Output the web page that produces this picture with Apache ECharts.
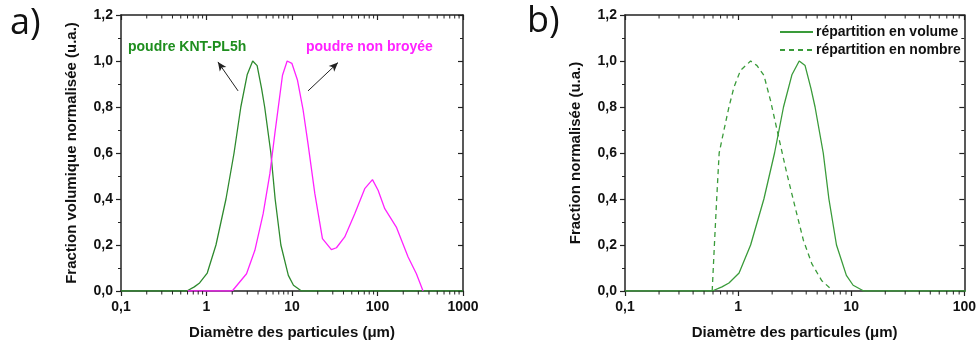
<!DOCTYPE html>
<html>
<head>
<meta charset="utf-8">
<script src="https://cdn.jsdelivr.net/npm/echarts@6/dist/echarts.min.js"></script>
<style>
html,body{margin:0;padding:0;background:#fff;}
#c{width:979px;height:347px;}
</style>
</head>
<body>
<div id="c"></div>
<script>
// ---- data ----
const volD = [0.1, 0.59, 0.72, 0.83, 1.02, 1.29, 1.69, 2.10, 2.52, 2.99, 3.47, 3.91, 4.41, 4.79, 5.66, 6.35, 7.41, 9.06, 10.4, 12.9, 1000];
const volY = [0, 0, 0.018, 0.035, 0.078, 0.2, 0.4, 0.6, 0.8, 0.94, 1.0, 0.98, 0.88, 0.8, 0.6, 0.4, 0.2, 0.068, 0.025, 0, 0];
const magD = [0.6, 2.0, 2.94, 3.68, 4.60, 5.51, 6.30, 7.74, 8.78, 9.96, 11.6, 13.5, 15.4, 18.5, 22.7, 28.9, 33.1, 41.4, 54.2, 70.9, 87.3, 101.6, 121.6, 166, 228, 285, 341];
const magY = [0, 0, 0.075, 0.177, 0.336, 0.51, 0.684, 0.938, 1.0, 0.99, 0.916, 0.786, 0.64, 0.423, 0.228, 0.18, 0.188, 0.235, 0.336, 0.445, 0.484, 0.438, 0.358, 0.278, 0.148, 0.075, 0];
const numD = [0.59, 0.62, 0.645, 0.68, 0.75, 0.83, 0.92, 1.05, 1.29, 1.47, 1.69, 1.93, 2.28, 2.70, 3.19, 3.78, 4.48, 5.47, 6.92];
const numY = [0, 0.22, 0.39, 0.6, 0.7, 0.8, 0.887, 0.959, 1.0, 0.98, 0.938, 0.83, 0.67, 0.51, 0.365, 0.22, 0.119, 0.046, 0];
const minorTicksA = [0.2,0.3,0.4,0.5,0.6,0.7,0.8,0.9,2,3,4,5,6,7,8,9,20,30,40,50,60,70,80,90,200,300,400,500,600,700,800,900];
const minorTicksB = [0.2,0.3,0.4,0.5,0.6,0.7,0.8,0.9,2,3,4,5,6,7,8,9,20,30,40,50,60,70,80,90];
const arrowGreen = [[2.34, 0.87], [1.36, 0.996]];
const arrowMag = [[15.4, 0.87], [34.5, 0.993]];

const FONT = '"Liberation Sans", Arial, sans-serif';
const AX = '#222';
const pair = (xs, ys) => xs.map((x, i) => [x, ys[i]]);
const fmtY = v => v.toFixed(1).replace('.', ',');
const fmtX = v => String(v).replace('.', ',');

function xAxisMain(gi, max){
  return {gridIndex: gi, type: 'log', logBase: 10, min: 0.1, max: max, position: 'bottom',
    axisLine: {show: true, onZero: false, lineStyle: {color: AX, width: 1.5}},
    axisTick: {show: true, inside: false, length: 5, lineStyle: {color: AX, width: 1.2}},
    axisLabel: {show: true, margin: 9, color: '#111', fontFamily: FONT, fontWeight: 'bold', fontSize: 14, formatter: fmtX, showMinLabel: true, showMaxLabel: true},
    splitLine: {show: false}, minorTick: {show: false},
    name: 'Diamètre des particules (μm)', nameLocation: 'middle', nameGap: 34,
    nameTextStyle: {color: '#111', fontFamily: FONT, fontWeight: 'bold', fontSize: 15}};
}
function xAxisTop(gi, max){
  return {gridIndex: gi, type: 'log', logBase: 10, min: 0.1, max: max, position: 'top',
    axisLine: {show: true, onZero: false, lineStyle: {color: AX, width: 1.5}},
    axisTick: {show: true, inside: true, length: 5, lineStyle: {color: AX, width: 1.2}},
    axisLabel: {show: false}, splitLine: {show: false}};
}
function yAxisMain(gi, name){
  return {gridIndex: gi, type: 'value', min: 0, max: 1.2, interval: 0.2, position: 'left',
    axisLine: {show: true, onZero: false, lineStyle: {color: AX, width: 1.5}},
    axisTick: {show: true, inside: false, length: 5, lineStyle: {color: AX, width: 1.2}},
    minorTick: {show: true, splitNumber: 2, length: 3, lineStyle: {color: AX, width: 1}},
    axisLabel: {margin: 8, color: '#111', fontFamily: FONT, fontWeight: 'bold', fontSize: 14, formatter: fmtY},
    splitLine: {show: false},
    name: name, nameLocation: 'middle', nameGap: 42,
    nameTextStyle: {color: '#111', fontFamily: FONT, fontWeight: 'bold', fontSize: 15}};
}
function yAxisRight(gi){
  return {gridIndex: gi, type: 'value', min: 0, max: 1.2, interval: 0.2, position: 'right',
    axisLine: {show: true, onZero: false, lineStyle: {color: AX, width: 1.5}},
    axisTick: {show: true, inside: true, length: 5, lineStyle: {color: AX, width: 1.2}},
    minorTick: {show: true, splitNumber: 2, length: 3, lineStyle: {color: AX, width: 1}},
    axisLabel: {show: false}, splitLine: {show: false}};
}
function minorTickSeries(xi, yi, vals){
  return {type: 'custom', xAxisIndex: xi, yAxisIndex: yi, silent: true, clip: false, z: 5,
    data: vals.map(v => [v, 0]),
    renderItem: function(params, api){
      const v = api.value(0);
      const b = api.coord([v, 0]);
      const t = api.coord([v, 1.2]);
      const st = {stroke: AX, lineWidth: 1};
      return {type: 'group', children: [
        {type: 'line', shape: {x1: b[0], y1: b[1], x2: b[0], y2: b[1] + 3.5}, style: st},
        {type: 'line', shape: {x1: t[0], y1: t[1], x2: t[0], y2: t[1] + 3.5}, style: st}
      ]};
    }};
}
function arrow(pts){
  return {silent: true, symbol: ['none', 'arrow'], symbolSize: [6, 9], animation: false,
    lineStyle: {color: '#222', width: 1, type: 'solid'}, label: {show: false},
    data: [[{coord: pts[0]}, {coord: pts[1]}]]};
}

const option = {
  backgroundColor: '#fff',
  animation: false,
  grid: [
    {left: 121, top: 15, width: 342, height: 276},
    {left: 625, top: 15, width: 342, height: 276}
  ],
  xAxis: [xAxisMain(0, 1000), xAxisTop(0, 1000), xAxisMain(1, 100), xAxisTop(1, 100)],
  yAxis: [yAxisMain(0, 'Fraction volumique normalisée (u.a.)'), yAxisRight(0), yAxisMain(1, 'Fraction normalisée (u.a.)'), yAxisRight(1)],
  legend: {
    left: 774, top: 20, orient: 'vertical', itemWidth: 33, itemHeight: 14, itemGap: 4, itemStyle: {opacity: 0},
    data: ['répartition en volume', 'répartition en nombre'],
    textStyle: {color: '#111', fontFamily: FONT, fontWeight: 'bold', fontSize: 14, padding: [0, 0, 0, -2]}
  },
  graphic: [
    {type: 'text', left: 10, top: 6, style: {text: 'a)', font: '36px "Open Sans", "Noto Sans", sans-serif', fill: '#111'}},
    {type: 'text', left: 527, top: 4, style: {text: 'b)', font: '36px "Open Sans", "Noto Sans", sans-serif', fill: '#111'}},
    {type: 'text', left: 128, top: 40, style: {text: 'poudre KNT-PL5h', font: 'bold 14px ' + FONT, fill: '#1e8e1e'}},
    {type: 'text', left: 306, top: 40, style: {text: 'poudre non broyée', font: 'bold 14px ' + FONT, fill: '#ff22ff'}}
  ],
  series: [
    {name: 'KNT-PL5h', type: 'line', xAxisIndex: 0, yAxisIndex: 0, data: pair(volD, volY), symbol: 'none',
      lineStyle: {color: '#2e8a2e', width: 1.3}, z: 3, markLine: arrow(arrowGreen)},
    {name: 'non broyée', type: 'line', xAxisIndex: 0, yAxisIndex: 0, data: pair(magD, magY), symbol: 'none',
      lineStyle: {color: '#ff22ff', width: 1.3}, z: 4, markLine: arrow(arrowMag)},
    {name: 'répartition en volume', type: 'line', xAxisIndex: 2, yAxisIndex: 2, data: pair(volD, volY), symbol: 'none',
      itemStyle: {color: '#3a9b3a'}, lineStyle: {color: '#3a9b3a', width: 1.3}, z: 3},
    {name: 'répartition en nombre', type: 'line', xAxisIndex: 2, yAxisIndex: 2, data: pair(numD, numY), symbol: 'none',
      itemStyle: {color: '#3a9b3a'}, lineStyle: {color: '#3a9b3a', width: 1.3, type: [5, 4]}, z: 3},
    minorTickSeries(0, 0, minorTicksA),
    minorTickSeries(2, 2, minorTicksB)
  ]
};
const chart = echarts.init(document.getElementById('c'), null, {renderer: 'canvas'});
chart.setOption(option);
</script>
</body>
</html>
